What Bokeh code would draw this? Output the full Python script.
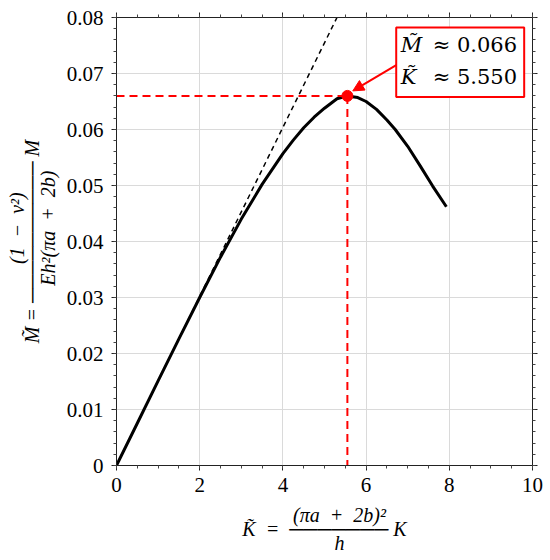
import numpy as np
from bokeh.plotting import figure
from bokeh.models import (Range1d, LinearAxis, FixedTicker, Label, BoxAnnotation,
                          Arrow, NormalHead)
from bokeh.embed import file_html
from bokeh.resources import INLINE

# ---------------- data ----------------
k_tilde = [0.0, 0.5, 1.0, 1.5, 2.0, 2.5, 3.0, 3.5, 4.0, 4.25, 4.5, 4.75, 5.0, 5.3,
           5.55, 5.8, 6.0, 6.25, 6.5, 6.7, 7.0, 7.3, 7.6, 7.93]
m_tilde = [0.0, 0.00755, 0.0151, 0.0226, 0.0300, 0.0372, 0.0440, 0.0502, 0.0557, 0.0581,
           0.0603, 0.0622, 0.0638, 0.0655, 0.0660, 0.0657, 0.0650, 0.0636, 0.0617, 0.0600,
           0.0570, 0.0535, 0.0499, 0.0462]

tangent_k = [0.0, 5.30]
tangent_m = [0.0, 0.080]

peak_k = 5.55
peak_m = 0.066

x_ticks = [0, 2, 4, 6, 8, 10]
x_tick_labels = ["0", "2", "4", "6", "8", "10"]
y_ticks = [0.0, 0.01, 0.02, 0.03, 0.04, 0.05, 0.06, 0.07, 0.08]
y_tick_labels = ["0", "0.01", "0.02", "0.03", "0.04", "0.05", "0.06", "0.07", "0.08"]

EN = "\u2002"
EM = "\u2003"
TH = "\u2004"
BAR = "\u2500"
x_title = (EM + EN + "(\u03c0a" + EN + "+" + EN + "2b)\u00b2" + "\n"
           + "K\u0303" + EN + "=" + EN + BAR * 7 + " K" + "\n"
           + EM + EN + "h")
y_title = (EM + TH + "(1" + EN + "\u2212" + EN + "\u03bd\u00b2)" + "\n"
           + "M\u0303 = " + BAR * 10 + " M" + "\n"
           + EM + TH + "Eh\u00b2(\u03c0a" + EN + "+" + EN + "2b)")

# ---------------- figure ----------------
FONT = "Liberation Serif"
p = figure(width=548, height=558, x_range=Range1d(0, 10), y_range=Range1d(0, 0.08),
           output_backend="svg", toolbar_location=None,
           min_border_left=116, min_border_right=16, min_border_top=17, min_border_bottom=93)
p.outline_line_color = None
p.background_fill_color = "white"
p.border_fill_color = "white"

x_minor = [i * 0.5 for i in range(21)]
y_minor = [round(i * 0.002, 4) for i in range(41)]
xt = FixedTicker(ticks=x_ticks, minor_ticks=x_minor)
yt = FixedTicker(ticks=y_ticks, minor_ticks=y_minor)


def style_axis(ax, ticker, labels=None):
    ax.ticker = ticker
    ax.axis_line_color = "#222222"
    ax.axis_line_width = 1
    ax.major_tick_line_color = "#222222"
    ax.minor_tick_line_color = "#444444"
    ax.major_tick_in = 0
    ax.major_tick_out = 5
    ax.minor_tick_in = 0
    ax.minor_tick_out = 3
    if labels is None:
        ax.major_label_text_font_size = "0px"
        ax.major_label_standoff = 0
        ax.major_label_overrides = {t: "" for t in ticker.ticks}
    else:
        ax.major_label_text_font = FONT
        ax.major_label_text_font_size = "21px"
        ax.major_label_text_color = "black"
        ax.major_label_overrides = {t: l for t, l in zip(ticker.ticks, labels)}


def style_title(ax, text, standoff, line_height):
    ax.axis_label = text
    ax.axis_label_text_font = FONT
    ax.axis_label_text_font_style = "italic"
    ax.axis_label_text_font_size = "20px"
    ax.axis_label_text_color = "black"
    ax.axis_label_standoff = standoff
    ax.axis_label_text_line_height = line_height


style_axis(p.xaxis[0], xt, x_tick_labels)
p.xaxis[0].major_label_standoff = 7
style_title(p.xaxis[0], x_title, 9, 0.65)
style_axis(p.yaxis[0], yt, y_tick_labels)
p.yaxis[0].major_label_standoff = 8
style_title(p.yaxis[0], y_title, 5, 0.7)

top_ax = LinearAxis()
style_axis(top_ax, FixedTicker(ticks=x_ticks, minor_ticks=x_minor))
p.add_layout(top_ax, "above")
right_ax = LinearAxis()
style_axis(right_ax, FixedTicker(ticks=y_ticks, minor_ticks=y_minor))
p.add_layout(right_ax, "right")

p.xgrid.ticker = xt
p.ygrid.ticker = yt
p.xgrid.grid_line_color = "#dadada"
p.ygrid.grid_line_color = "#dadada"

# ---------------- marks ----------------
p.line(tangent_k, tangent_m, line_color="black", line_width=1.5, line_dash="5 4")
p.line(k_tilde, m_tilde, line_color="black", line_width=3)
p.line([0, peak_k], [peak_m, peak_m], line_color="red", line_width=2, line_dash="8 5")
p.line([peak_k, peak_k], [peak_m, 0], line_color="red", line_width=2, line_dash="8 5")
p.scatter([peak_k], [peak_m], size=11, color="red")

# ---------------- annotation box ----------------
p.add_layout(BoxAnnotation(left=6.724, right=9.80, bottom=0.06582, top=0.07821,
                           fill_color="white", fill_alpha=1.0,
                           line_color="red", line_alpha=1.0, line_width=2))
BOXFONT = "DejaVu Serif"
for sym, val, yy in [("M\u0303", peak_m, 0.07505), ("K\u0303", peak_k, 0.06934)]:
    p.add_layout(Label(x=6.83, y=yy, text=sym, text_font=BOXFONT, text_font_style="italic",
                       text_font_size="21px", text_align="left", text_baseline="middle",
                       text_color="black"))
    p.add_layout(Label(x=7.60, y=yy, text=f"\u2248 {val:.3f}", text_font=BOXFONT,
                       text_font_size="21px", text_align="left", text_baseline="middle",
                       text_color="black"))

p.add_layout(Arrow(end=NormalHead(size=11, fill_color="red", line_color="red"),
                   x_start=6.724, y_start=0.07148, x_end=5.68, y_end=0.06689,
                   line_color="red", line_width=2))

open("out.html", "w").write(file_html(p, INLINE))
